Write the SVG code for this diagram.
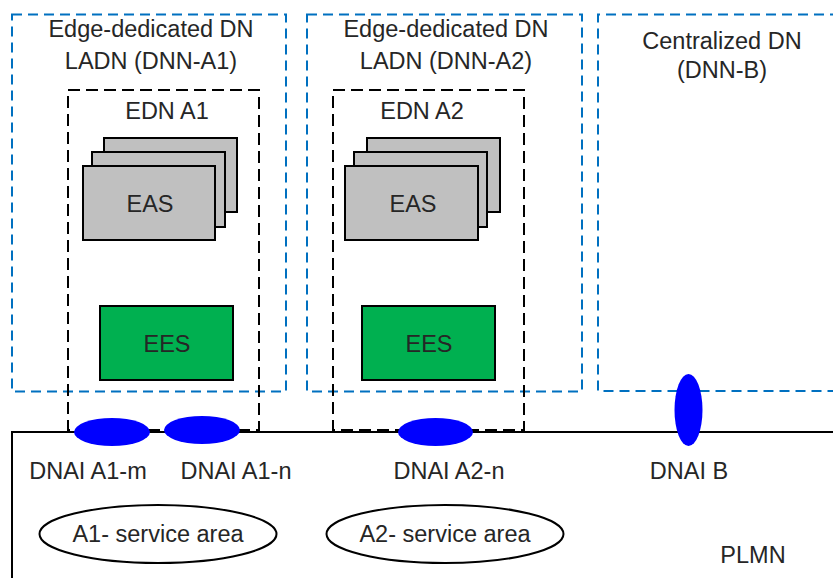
<svg xmlns="http://www.w3.org/2000/svg" width="833" height="578" viewBox="0 0 833 578">
<style>
text{font-family:"Liberation Sans",Arial,sans-serif;font-size:23.5px;fill:#262626;text-anchor:middle}
.dn{fill:none;stroke:#0070C0;stroke-width:2;stroke-dasharray:10 6}
.edn{fill:none;stroke:#000;stroke-width:2;stroke-dasharray:12 6}
.eas{fill:#C0C0C0;stroke:#000;stroke-width:2}
.ees{fill:#00B050;stroke:#000;stroke-width:2}
.dnai{fill:#0000FF;stroke:none}
.area{fill:#fff;stroke:#000;stroke-width:2}
</style>
<rect width="833" height="578" fill="#fff"/>
<g id="plmn">
<path d="M12,578 V432 H833" fill="none" stroke="#000" stroke-width="2"/>
<text x="753" y="563">PLMN</text>
</g>
<g id="dn-a1">
<rect class="dn" x="12" y="14.5" width="274" height="377"/>
<text x="151" y="37">Edge-dedicated DN</text>
<text x="151" y="69">LADN (DNN-A1)</text>
</g>
<g id="dn-a2">
<rect class="dn" x="307" y="14.5" width="275" height="377"/>
<text x="446" y="37">Edge-dedicated DN</text>
<text x="446" y="69">LADN (DNN-A2)</text>
</g>
<g id="dn-b">
<path class="dn" d="M840,14.5 H598 V391 H840"/>
<text x="722" y="49">Centralized DN</text>
<text x="722" y="78">(DNN-B)</text>
</g>
<g id="edn-a1">
<rect class="edn" x="68" y="90" width="191" height="340"/>
<text x="167" y="119">EDN A1</text>
</g>
<g id="edn-a2">
<rect class="edn" x="333" y="90" width="191" height="340"/>
<text x="422" y="119">EDN A2</text>
</g>
<g id="eas-a1">
<rect class="eas" x="104" y="138" width="133" height="74"/>
<rect class="eas" x="92" y="152" width="133" height="75"/>
<rect class="eas" x="83" y="166" width="132" height="74"/>
<text x="150" y="212">EAS</text>
</g>
<g id="eas-a2">
<rect class="eas" x="367" y="138" width="133" height="74"/>
<rect class="eas" x="354" y="152" width="133" height="75"/>
<rect class="eas" x="345" y="166" width="133" height="74"/>
<text x="413" y="212">EAS</text>
</g>
<g id="ees-a1">
<rect class="ees" x="100" y="306" width="133" height="74"/>
<text x="167" y="352">EES</text>
</g>
<g id="ees-a2">
<rect class="ees" x="362" y="306" width="133" height="74"/>
<text x="429" y="352">EES</text>
</g>
<g id="connectors"></g>
<g id="dnai-a1-m">
<ellipse class="dnai" cx="112" cy="432" rx="38" ry="14"/>
<text x="88" y="479">DNAI A1-m</text>
</g>
<g id="dnai-a1-n">
<ellipse class="dnai" cx="202" cy="430" rx="38" ry="14"/>
<text x="236" y="479">DNAI A1-n</text>
</g>
<g id="dnai-a2-n">
<ellipse class="dnai" cx="435.5" cy="432" rx="37.5" ry="14"/>
<text x="449" y="479">DNAI A2-n</text>
</g>
<g id="dnai-b">
<ellipse class="dnai" cx="688.5" cy="410" rx="14" ry="36"/>
<text x="689" y="479">DNAI B</text>
</g>
<g id="area-a1">
<ellipse class="area" cx="158" cy="534" rx="118.5" ry="29"/>
<text x="158" y="542">A1- service area</text>
</g>
<g id="area-a2">
<ellipse class="area" cx="445" cy="534" rx="118.5" ry="29"/>
<text x="445" y="542">A2- service area</text>
</g>
</svg>
